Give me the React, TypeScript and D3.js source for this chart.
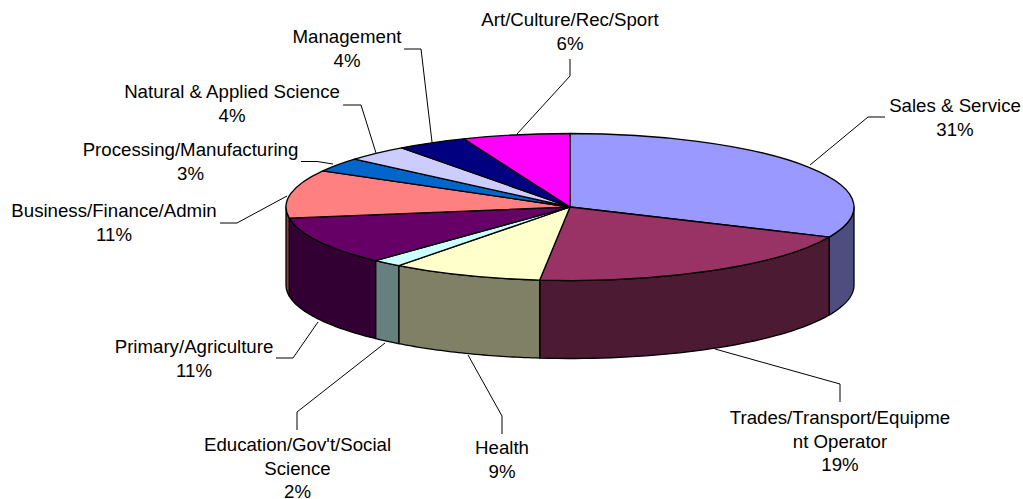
import React from 'react'
import * as d3 from 'd3'

const categories = ['Sales & Service', 'Trades/Transport/Equipment Operator', 'Health', "Education/Gov't/Social Science", 'Primary/Agriculture', 'Business/Finance/Admin', 'Processing/Manufacturing', 'Natural & Applied Science', 'Management', 'Art/Culture/Rec/Sport']
// slice sizes, the printed labels are rounded differently
const values = [31.7, 20.0, 8.6, 1.7, 10.6, 10.6, 3.1, 3.6, 4.0, 6.1]
const percentLabels = ['31%', '19%', '9%', '2%', '11%', '11%', '3%', '4%', '4%', '6%']
const colors = ['#9999FF', '#993366', '#FFFFCC', '#CCFFFF', '#660066', '#FF8080', '#0066CC', '#CCCCFF', '#000080', '#FF00FF']

const cx = 570, cy = 207, rx = 284, ry = 73.5, depth = 78
const lineStep = 23.6

// label layout: wrap position, centre x, first baseline, leader polyline
const labelLayout: { wrap?: number, x: number, y: number, leader: [number, number][] }[] = [
    { x: 955, y: 112, leader: [[810, 165], [868, 117], [885, 117]] },
    { wrap: 24, x: 840, y: 424, leader: [[715, 349], [840, 384], [840, 402]] },
    { x: 502, y: 454, leader: [[468, 355], [502, 416], [502, 434]] },
    { wrap: 23, x: 297.5, y: 451, leader: [[385, 343], [297, 412], [297, 430]] },
    { x: 194, y: 353, leader: [[318, 322], [293, 358], [276, 358]] },
    { x: 114, y: 217, leader: [[287, 196], [237, 223], [220, 223]] },
    { x: 190.5, y: 156, leader: [[333, 164], [317, 161.5], [301, 161.5]] },
    { x: 232, y: 98, leader: [[376, 153], [361, 105], [343, 105]] },
    { x: 347, y: 43, leader: [[432, 142], [421, 49], [404, 49]] },
    { x: 570, y: 26, leader: [[517, 134], [570, 76], [570, 59]] },
]

const pieGen = d3.pie<number>().sort(null)
const slices = pieGen(values)

// top face is a flat arc squashed vertically
const arcGen = d3.arc<d3.PieArcDatum<number>>().innerRadius(0).outerRadius(rx)

const sx = (a: number) => cx + rx * Math.sin(a)
const sy = (a: number) => cy - ry * Math.cos(a)

function wallPath(a0: number, a1: number) {
    const n = 40
    const from = Math.max(a0, Math.PI / 2), to = Math.min(a1, Math.PI * 1.5)
    if (to <= from) return null
    const angles = d3.range(n + 1).map(i => from + (to - from) * i / n)
    const top = angles.map(a => [sx(a), sy(a)] as [number, number])
    const bottom = angles.slice().reverse().map(a => [sx(a), sy(a) + depth] as [number, number])
    return d3.line()([...top, ...bottom]) + 'Z'
}

const leaderLine = d3.line()

function labelLines(i: number) {
    const name = categories[i], wrap = labelLayout[i].wrap
    const lines = wrap ? [name.slice(0, wrap).trim(), name.slice(wrap).trim()] : [name]
    return [...lines, percentLabels[i]]
}

export default function App() {
    return (
        <svg width={1023} height={499} style={{ position: 'absolute', left: 0, top: 0 }} fontFamily="'Liberation Sans', Arial, sans-serif" fontSize={18.67}>
            <rect width={1023} height={499} fill="#fff" />
            {labelLayout.map((d, i) => (
                <path key={i} d={leaderLine(d.leader) as string} fill="none" stroke="#000" strokeWidth={1} />
            ))}
            {slices.map((s, i) => {
                const d = wallPath(s.startAngle, s.endAngle)
                if (!d) return null
                return <path key={i} d={d} fill={d3.interpolateRgb(colors[i], '#000')(0.5)} stroke="#000" strokeWidth={1.3} strokeLinejoin="round" />
            })}
            <g transform={`translate(${cx},${cy}) scale(1,${ry / rx})`}>
                {slices.map((s, i) => (
                    <path key={i} d={arcGen(s) as string} fill={colors[i]} stroke="#000" strokeWidth={1.3} vectorEffect="non-scaling-stroke" strokeLinejoin="round" />
                ))}
            </g>
            {labelLayout.map((d, i) => (
                <text key={i} textAnchor="middle" fill="#000">
                    {labelLines(i).map((t, j) => (
                        <tspan key={j} x={d.x} y={d.y + j * lineStep}>{t}</tspan>
                    ))}
                </text>
            ))}
        </svg>
    )
}
